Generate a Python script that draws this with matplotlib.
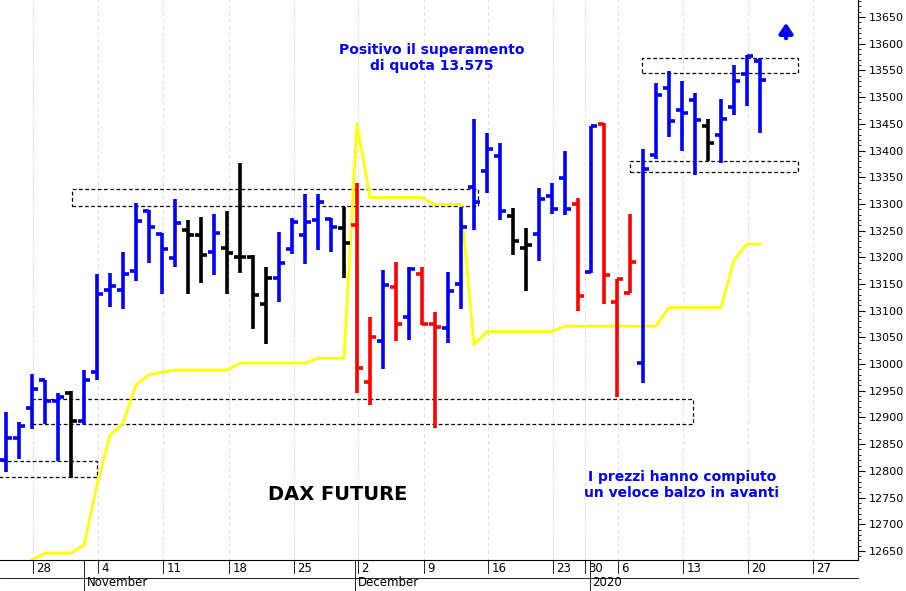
import matplotlib
matplotlib.use("Agg")
import matplotlib.pyplot as plt
from matplotlib.patches import Rectangle
from matplotlib.transforms import blended_transform_factory

# ---- data (OHLC bars, trading-day index) ----
opens  = [12820,12861,12917,12970,12931,12946,12894,12986,13139,13139,13175,13287,13244,13198,13251,13242,13210,13217,13201,13201,
          13113,13162,13215,13242,13269,13271,13254,13260,12967,13044,13145,13089,13169,13076,13067,13150,13331,13362,13390,13277,
          13217,13243,13315,13349,13300,13173,13450,13116,13133,13002,13392,13517,13476,13495,13446,13430,13482,13543,13568]
highs  = [12911,12892,12981,12971,12945,12950,12989,13169,13170,13210,13302,13289,13245,13309,13270,13276,13281,13287,13377,13204,
          13182,13248,13273,13319,13319,13273,13295,13340,13089,13176,13192,13181,13181,13098,13173,13295,13460,13433,13415,13292,
          13254,13329,13339,13400,13312,13446,13452,13159,13281,13402,13526,13549,13531,13507,13460,13496,13560,13579,13573]
lows   = [12798,12822,12878,12888,12819,12786,12888,12970,13106,13103,13156,13189,13131,13181,13131,13151,13167,13131,13171,13065,
          13038,13116,13206,13187,13214,13210,13161,12946,12923,12990,13044,13045,13073,12880,13039,13103,13252,13321,13269,13204,
          13137,13193,13282,13279,13100,13171,13112,12939,13133,12964,13384,13426,13399,13355,13381,13376,13466,13483,13433]
closes = [12861,12884,12953,12931,12938,12894,12970,13131,13146,13169,13268,13256,13215,13265,13242,13204,13246,13209,13201,13129,
          13162,13189,13267,13267,13303,13257,13226,12993,13050,13148,13076,13179,13075,13070,13136,13257,13304,13402,13287,13230,
          13223,13309,13290,13290,13128,13446,13167,13159,13191,13365,13504,13456,13471,13458,13414,13459,13530,13577,13532]
colors = (["b"]*5 + ["k"] + ["b"]*8 + ["k"]*2 + ["b"] + ["k"]*4 + ["b"]*5 + ["k"] + ["r","r","b","r","b","r","r"]
          + ["b"]*5 + ["k"]*2 + ["b"]*3 + ["r","b","r","r","r"] + ["b"]*5 + ["k"] + ["b"]*4)

# yellow line (starts at bar index 2)
yellow = [12633,12646,12646,12646,12661,12774,12867,12889,12961,12980,12985,12989,12989,12989,12989,12989,13002,13002,13002,13002,
          13002,13002,13011,13011,13011,13450,13312,13312,13312,13312,13312,13299,13299,13299,13036,13061,13061,13061,13061,13061,
          13061,13071,13071,13071,13071,13071,13071,13071,13071,13106,13106,13106,13106,13106,13195,13225,13225]

# dashed boxes: (x_start_idx, x_end_idx, low, high)
boxes = [(-1.0, 6.98, 12789, 12819), (5.08, 36.3, 13296, 13328), (2.0, 52.85, 12888, 12935),
         (48.9, 60.9, 13545, 13573), (48.0, 60.9, 13360, 13380)]

week_pos = [2.08,7.08,12.08,17.15,22.15,27.08,32.15,37.08,42.08,44.54,47.08,52.08,57.08,62.08]
week_lbl = ["28","4","11","18","25","2","9","16","23","30","6","13","20","27"]
month_pos = [6.0, 26.85, 44.9]
month_lbl = ["November","December","2020"]

cmap = {"b": "#0000ff", "k": "#000000", "r": "#ff0000"}

fig = plt.figure(figsize=(9.06, 5.91), dpi=100)
ax = fig.add_axes([0, 31/591, 858/906, 560/591])
ax.set_xlim(-0.4615, 65.54)
ax.set_ylim(12633, 13682)

for p in week_pos:
    ax.axvline(p, color="#dcdcf2", lw=0.7, ls=(0, (4, 3)), zorder=0)

for (x0, x1, lo, hi) in boxes:
    ax.add_patch(Rectangle((x0, lo), x1 - x0, hi - lo, fill=False, ec="black", lw=0.9, ls=(0, (3, 2)), zorder=1))

ax.plot(range(2, 2 + len(yellow)), yellow, color="#ffff00", lw=2, zorder=2)

tk = 0.45
for i in range(len(opens)):
    c = cmap[colors[i]]
    ax.plot([i, i], [lows[i], highs[i]], color=c, lw=2.6, solid_capstyle="butt", zorder=3)
    ax.plot([i - tk, i], [opens[i], opens[i]], color=c, lw=2.6, solid_capstyle="butt", zorder=3)
    ax.plot([i, i + tk], [closes[i], closes[i]], color=c, lw=2.6, solid_capstyle="butt", zorder=3)

# y axis on right
ax.yaxis.tick_right()
ax.set_yticks(range(12650, 13651, 50))
ax.set_yticks(range(12640, 13681, 10), minor=True)
ax.tick_params(axis="y", which="major", length=5, labelsize=8, pad=3, direction="out")
ax.tick_params(axis="y", which="minor", length=2.5)
ax.set_xticks([])
for s in ["top", "left"]:
    ax.spines[s].set_visible(False)
ax.spines["right"].set_linewidth(0.8)
ax.spines["bottom"].set_linewidth(0.8)

# x labels
tr = blended_transform_factory(ax.transData, fig.transFigure)
for p, l in zip(week_pos, week_lbl):
    ax.plot([p, p], [18/591, 31/591], transform=tr, color="black", lw=0.6, clip_on=False)
    ax.text(p + 0.25, 1 - 569/591, l, transform=tr, fontsize=8.5, va="center", ha="left")
for p, l in zip(month_pos, month_lbl):
    ax.plot([p, p], [0, 31/591], transform=tr, color="black", lw=0.6, clip_on=False)
    ax.text(p + 0.2, 1 - 583/591, l, transform=tr, fontsize=8.5, va="center", ha="left")
fig.add_artist(plt.Line2D([0, 858/906], [13/591, 13/591], color="black", lw=0.6))

# annotations
ax.text(432/906, 1 - 58/591, "Positivo il superamento\ndi quota 13.575", transform=fig.transFigure,
        color="#0000ff", fontsize=10, fontweight="bold", ha="center", va="center", linespacing=1.1)
ax.text(338/906, 1 - 495/591, "DAX FUTURE", transform=fig.transFigure,
        color="black", fontsize=14, fontweight="bold", ha="center", va="center")
ax.text(682/906, 1 - 485/591, "I prezzi hanno compiuto\nun veloce balzo in avanti", transform=fig.transFigure,
        color="#0000ff", fontsize=10, fontweight="bold", ha="center", va="center", linespacing=1.1)
ax.annotate("", xy=(786/906, 1 - 20/591), xytext=(786/906, 1 - 41/591), xycoords="figure fraction",
            arrowprops=dict(arrowstyle="-|>,head_width=0.4,head_length=0.6", color="#0000ff", lw=3))

fig.savefig("out.png", dpi=100)
